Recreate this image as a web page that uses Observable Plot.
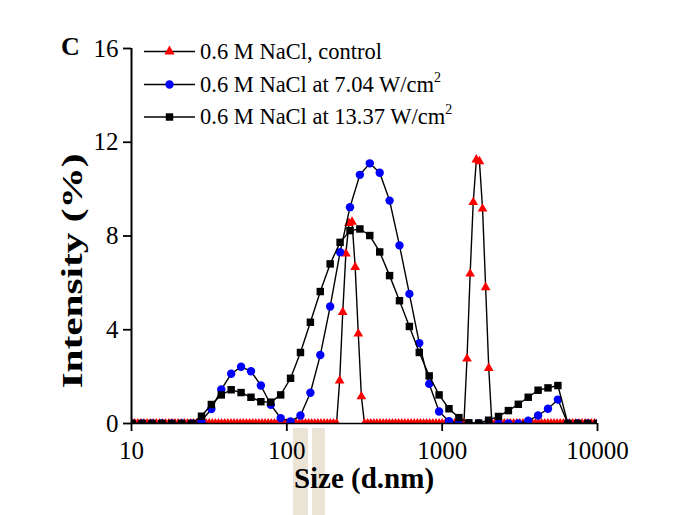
<!DOCTYPE html>
<html><head><meta charset="utf-8">
<script src="https://cdn.jsdelivr.net/npm/d3@7"></script>
<script src="https://cdn.jsdelivr.net/npm/@observablehq/plot@0.6"></script>
<style>body{margin:0;background:#fff}</style>
</head><body><div id="chart"></div>
<script>
// Size grid (nm) used by the two sonicated samples
const gridSize = [10.1, 11.7, 13.54, 15.69, 18.17, 21.04, 24.36, 28.21, 32.67, 37.84,
  43.82, 50.75, 58.77, 68.06, 78.82, 91.28, 105.7, 122.4, 141.8, 164.2,
  190.1, 220.2, 255, 295.3, 342, 396.1, 458.7, 531.2, 615.1, 712.4,
  825, 955.4, 1106, 1281, 1484, 1718, 1990, 2305, 2669, 3091,
  3580, 4145, 4801, 5560, 6439, 7456, 8635, 10000];
// 0.6 M NaCl at 7.04 W/cm2 (blue circles)
const blueIntensity = [0, 0, 0, 0, 0, 0, 0, 0.1, 0.62, 1.45,
  2.12, 2.42, 2.23, 1.62, 0.8, 0.23, 0.09, 0.34, 1.31, 2.92,
  4.99, 7.31, 9.23, 10.61, 11.1, 10.7, 9.51, 7.6, 5.53, 3.43,
  1.69, 0.51, 0.1, 0, 0, 0, 0, 0, 0, 0,
  0.12, 0.34, 0.63, 1.02, 0, 0, 0, 0];
// 0.6 M NaCl at 13.37 W/cm2 (black squares)
const blackIntensity = [0, 0, 0, 0, 0, 0, 0, 0.31, 0.81, 1.22,
  1.44, 1.32, 1.12, 0.93, 0.91, 1.22, 1.93, 3.03, 4.32, 5.63,
  6.81, 7.73, 8.23, 8.3, 8.02, 7.32, 6.31, 5.24, 4.14, 3.03,
  2.03, 1.22, 0.63, 0.25, 0.03, 0.02, 0.14, 0.3, 0.55, 0.82,
  1.12, 1.42, 1.52, 1.62, 0, 0, 0, 0];
// Control sample (red triangles), denser size grid
const redSize = [
  10, 10.47, 10.96, 11.48, 12.02, 12.59, 13.18, 13.80, 14.45, 15.14, 15.85, 16.60, 17.38, 18.20, 19.05, 19.95, 20.89, 21.88, 22.91, 23.99,
  25.12, 26.30, 27.54, 28.84, 30.20, 31.62, 33.11, 34.67, 36.31, 38.02, 39.81, 41.69, 43.65, 45.71, 47.86, 50.12, 52.48, 54.95, 57.54, 60.26,
  63.10, 66.07, 69.18, 72.44, 75.86, 79.43, 83.18, 87.10, 91.20, 95.50,
  100, 104.7, 109.6, 114.8, 120.2, 125.9, 131.8, 138.0, 144.5, 151.4, 158.5, 166.0, 173.8, 182.0, 190.5, 199.5, 208.9, 218.8, 229.1, 239.9,
  251.2, 263.0, 275.4, 288.4, 302.0, 316.2, 331.1, 346.7, 363.1, 380.2, 398.1, 416.9, 436.5, 457.1, 478.6, 501.2, 524.8, 549.5, 575.4, 602.6,
  631.0, 660.7, 691.8, 724.4, 758.6, 794.3, 831.8, 871.0, 912.0, 955.0,
  1000, 1047, 1096, 1148, 1202, 1259, 1318, 1380, 1445, 1514, 1585, 1660, 1738, 1820, 1905, 1995, 2089, 2188, 2291, 2399,
  2512, 2630, 2754, 2884, 3020, 3162, 3311, 3467, 3631, 3802, 3981, 4169, 4365, 4571, 4786, 5012, 5248, 5495, 5754, 6026,
  6310, 6607, 6918, 7244, 7586, 7943, 8318, 8710, 9120, 9550,
  10000];
const redIntensity = [
  0,0,0,0,0,0,0,0,0,0, 0,0,0,0,0,0,0,0,0,0, 0,0,0,0,0,0,0,0,0,0, 0,0,0,0,0,0,0,0,0,0, 0,0,0,0,0,0,0,0,0,0,
  0,0,0,0,0,0,0,0,0,0, 0,0,0,0,0,0,0, 1.83, 4.75, 7.25, 8.55, 8.6, 6.67, 3.83, 1.15,
  0,0,0,0,0,0,0,0,0,0, 0,0,0,0,0,0,0,0,0,0, 0,0,0,0,0,
  0,0,0,0,0,0,0,0, 2.76, 6.39, 9.44, 11.26, 11.18, 9.16, 5.81, 2.36,
  0,0,0,0,0,0,0,0,0,0, 0,0,0,0,0,0,0,0,0,0, 0,0,0,0,0,0,0,0,0,0, 0,0,0,0,
  0];
const seriesLabels = ["0.6 M NaCl, control", "0.6 M NaCl at 7.04 W/cm", "0.6 M NaCl at 13.37 W/cm"];
const seriesSup = ["", "2", "2"];
const seriesColors = ["#ff0000", "#0000ff", "#000000"];
const xTicks = [10, 100, 1000, 10000];
const yTicks = [0, 4, 8, 12, 16];
const xLabel = "Size (d.nm)";
const yLabel = "Intensity (%)";
const panelLabel = "C";

const red = redSize.map((s, i) => ({s, v: redIntensity[i]}));
const blue = gridSize.map((s, i) => ({s, v: blueIntensity[i]}));
const black = gridSize.map((s, i) => ({s, v: blackIntensity[i]}));

const serif = "'Liberation Serif', 'Times New Roman', serif";
const lw = 1.4;
const rTri = 3.6, rCirc = 4.2, rSq = 4.2;

const plot = Plot.plot({
  width: 675, height: 515,
  marginLeft: 131, marginRight: 78, marginTop: 48, marginBottom: 92,
  x: {type: "log", domain: [10, 10000]},
  y: {domain: [0, 16]},
  style: {fontFamily: serif, color: "black", background: "white", fontSize: "25px", overflow: "visible"},
  marks: [
    Plot.line(red, {x: "s", y: "v", stroke: "black", strokeWidth: lw, clip: true}),
    Plot.dot(red, {x: "s", y: "v", symbol: "triangle", r: rTri, fill: seriesColors[0], stroke: "none", clip: true}),
    Plot.line(blue, {x: "s", y: "v", stroke: "black", strokeWidth: lw, clip: true}),
    Plot.dot(blue, {x: "s", y: "v", symbol: "circle", r: rCirc, fill: seriesColors[1], stroke: "none", clip: true}),
    Plot.line(black, {x: "s", y: "v", stroke: "black", strokeWidth: lw, clip: true}),
    Plot.dot(black, {x: "s", y: "v", symbol: "square", r: rSq, fill: seriesColors[2], stroke: "none", clip: true}),
    Plot.ruleX([10], {stroke: "black", strokeWidth: 2}),
    Plot.ruleY([0], {stroke: "black", strokeWidth: 1.6}),
    Plot.axisX({ticks: xTicks, tickFormat: d => String(d), tickSize: 8, tickPadding: 10, fontSize: 25, strokeWidth: 1.8, label: null}),
    Plot.axisY({ticks: yTicks, tickFormat: d => String(d), tickSize: 8, tickPadding: 5, fontSize: 25, strokeWidth: 1.8, label: null})
  ]
});
document.getElementById("chart").appendChild(plot);

const svg = d3.select(plot);
// faint beige patches under the x-axis title (present in the source image)
const bg = svg.insert("g", ":first-child");
bg.append("rect").attr("x", 293).attr("y", 428).attr("width", 15).attr("height", 87).attr("fill", "#ebe3d5");
bg.append("rect").attr("x", 312).attr("y", 428).attr("width", 13).attr("height", 87).attr("fill", "#ebe3d5");

// axis titles and panel letter
svg.append("text").attr("x", 364).attr("y", 488).attr("text-anchor", "middle")
  .attr("font-family", serif).attr("font-weight", "bold").attr("font-size", 29).attr("fill", "black").text(xLabel);
svg.append("text").attr("transform", "translate(82,271) rotate(-90)").attr("text-anchor", "middle")
  .attr("font-family", serif).attr("font-weight", "bold").attr("font-size", 30)
  .attr("textLength", 235).attr("lengthAdjust", "spacingAndGlyphs").attr("fill", "black").text(yLabel);
svg.append("text").attr("x", 61).attr("y", 55).attr("text-anchor", "start")
  .attr("font-family", serif).attr("font-weight", "bold").attr("font-size", 26).attr("fill", "black").text(panelLabel);

// legend
const rowY = [51.5, 84.5, 117];
const rowTextLength = [182, null, null];
const symTypes = [d3.symbolTriangle, d3.symbolCircle, d3.symbolSquare];
const symR = [3.8, rCirc, rSq];
const leg = svg.append("g");
seriesLabels.forEach((lab, i) => {
  const cy = rowY[i];
  leg.append("line").attr("x1", 144).attr("x2", 195).attr("y1", cy).attr("y2", cy)
    .attr("stroke", "black").attr("stroke-width", 1.6);
  leg.append("path").attr("d", d3.symbol().type(symTypes[i]).size(Math.PI * symR[i] * symR[i])())
    .attr("transform", `translate(169.5,${cy})`).attr("fill", seriesColors[i]);
  const t = leg.append("text").attr("x", 200).attr("y", cy + 7).attr("text-anchor", "start")
    .attr("font-family", serif).attr("font-size", 22.5).attr("fill", "black");
  const main = t.append("tspan").text(lab);
  if (rowTextLength[i]) main.attr("textLength", rowTextLength[i]).attr("lengthAdjust", "spacing");
  if (seriesSup[i]) t.append("tspan").attr("dy", -10).attr("font-size", 14).text(seriesSup[i]);
});
</script>
</body></html>
